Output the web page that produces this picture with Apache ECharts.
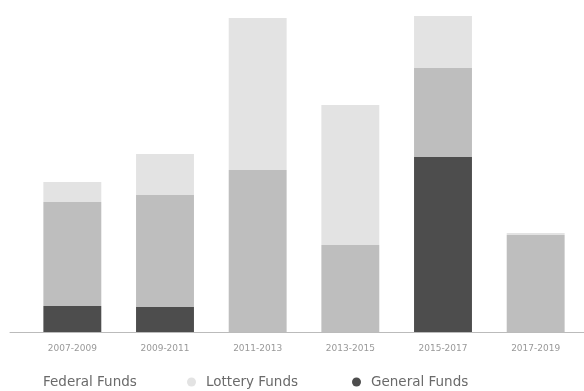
<!DOCTYPE html>
<html><head><meta charset="utf-8">
<script src="https://cdn.jsdelivr.net/npm/echarts@6/dist/echarts.min.js"></script>
<style>html,body{margin:0;padding:0;background:#fff}#c{width:584px;height:391px}</style>
</head><body><div id="c"></div>
<script>
var categories = ['2007-2009','2009-2011','2011-2013','2013-2015','2015-2017','2017-2019'];
var generalFunds = [26, 25, 0, 0, 175, 0];
var federalFunds = [104, 112, 162, 87, 89, 97];
var lotteryFunds = [20, 41, 152, 140, 52, 2];

var legendText = {color: '#6a6a6a', fontSize: 13.5, fontFamily: 'DejaVu Sans'};
function mkLegend(name, left, hideIcon) {
  return {
    top: 375, left: left, itemWidth: 19, itemHeight: 9, icon: 'circle', padding: 0,
    textStyle: legendText,
    data: [hideIcon ? {name: name, itemStyle: {opacity: 0}} : {name: name}]
  };
}

var chart = echarts.init(document.getElementById('c'));
chart.setOption({
  animation: false,
  grid: [
    {left: 26, right: 2, top: 12, bottom: 59},
    {left: 10, right: 0, top: 12, bottom: 59}
  ],
  legend: [
    mkLegend('Federal Funds', 24, true),
    mkLegend('Lottery Funds', 187, false),
    mkLegend('General Funds', 352, false)
  ],
  xAxis: [
    {
      type: 'category', data: categories, gridIndex: 0,
      axisLine: {lineStyle: {color: '#bbb', width: 1}},
      axisTick: {show: false},
      axisLabel: {color: '#999', fontSize: 9, margin: 12, fontFamily: 'DejaVu Sans'}
    },
    {
      type: 'value', gridIndex: 1, min: 0, max: 1,
      axisLine: {show: true, lineStyle: {color: '#bbb', width: 1}},
      axisTick: {show: false}, axisLabel: {show: false}, splitLine: {show: false}
    }
  ],
  yAxis: [
    {type: 'value', gridIndex: 0, min: 0, max: 320, show: false, splitLine: {show: false}},
    {type: 'value', gridIndex: 1, min: 0, max: 1, show: false, splitLine: {show: false}}
  ],
  series: [
    {name: 'General Funds', type: 'bar', stack: 't', data: generalFunds, barWidth: '62.5%', itemStyle: {color: '#4d4d4d'}},
    {name: 'Federal Funds', type: 'bar', stack: 't', data: federalFunds, itemStyle: {color: '#bebebe'}},
    {name: 'Lottery Funds', type: 'bar', stack: 't', data: lotteryFunds, itemStyle: {color: '#e3e3e3'}}
  ]
});
</script></body></html>
